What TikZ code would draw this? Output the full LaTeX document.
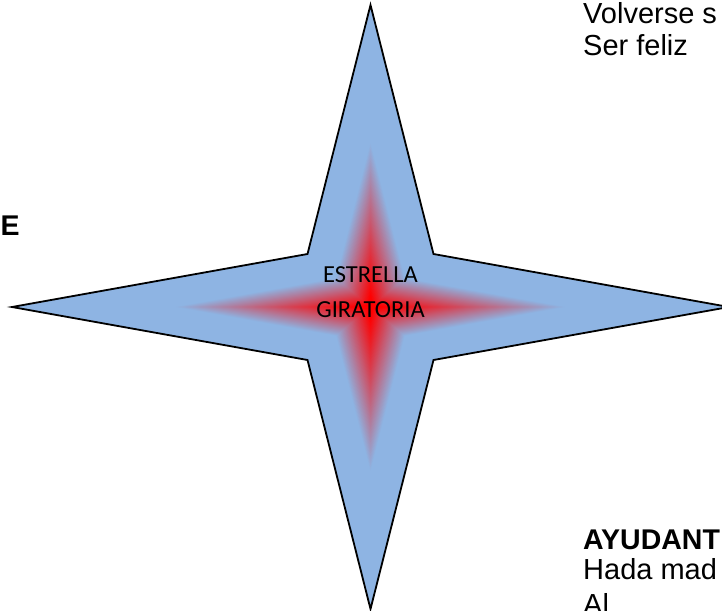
\documentclass[tikz,border=0pt]{standalone}
\usepackage{fontspec}
\setmainfont{Liberation Sans}
\newfontfamily\calibrifont{Carlito}
\definecolor{starblue}{RGB}{142,180,227}
\definecolor{starred}{RGB}{255,0,0}
\tikzset{
  txt/.style={inner sep=0pt, anchor=base west, font=\fontsize{29}{29}\selectfont},
  boldtxt/.style={txt, font=\fontsize{28.5}{28.5}\selectfont\bfseries},
  startxt/.style={inner sep=0pt, anchor=base, font=\calibrifont\fontsize{24.5}{24.5}\selectfont},
}
\def\starpath{(0,-302) -- (63,-53) -- (358.5,0) -- (63,53) -- (0,302) -- (-63,53) -- (-358.5,0) -- (-63,-53) -- cycle}
\begin{document}
\begin{tikzpicture}[x=1pt,y=-1pt]
\useasboundingbox (0,0) rectangle (722,610);
\clip (0,0) rectangle (722,610);
\begin{scope}[shift={(370.5,307)}]
  \fill[starblue] \starpath;
  \foreach \i in {60,59,...,1}{
    \pgfmathsetmacro\s{0.55*\i/60}
    \pgfmathsetmacro\p{max(0,min(100,100*(\s-0.04)/0.51))}
    \fill[starblue!\p!starred, scale=\s] \starpath;
  }
  \draw[black, line width=1.8pt, line join=miter] \starpath;
\end{scope}
\node[startxt] (l1) at (370.5,282) {ESTRELLA};
\node[startxt] (l2) at (370.5,317) {GIRATORIA};
\node[txt] (t1) at (583,23.5) {Volverse s};
\node[txt] (t2) at (583,56) {Ser feliz};
\node[boldtxt] (e) at (0.5,235) {E};
\node[boldtxt] (a1) at (583,549) {AYUDANT};
\node[txt] (a2) at (583,579) {Hada mad};
\node[txt] (a3) at (583,614) {Al};
\end{tikzpicture}
\end{document}
